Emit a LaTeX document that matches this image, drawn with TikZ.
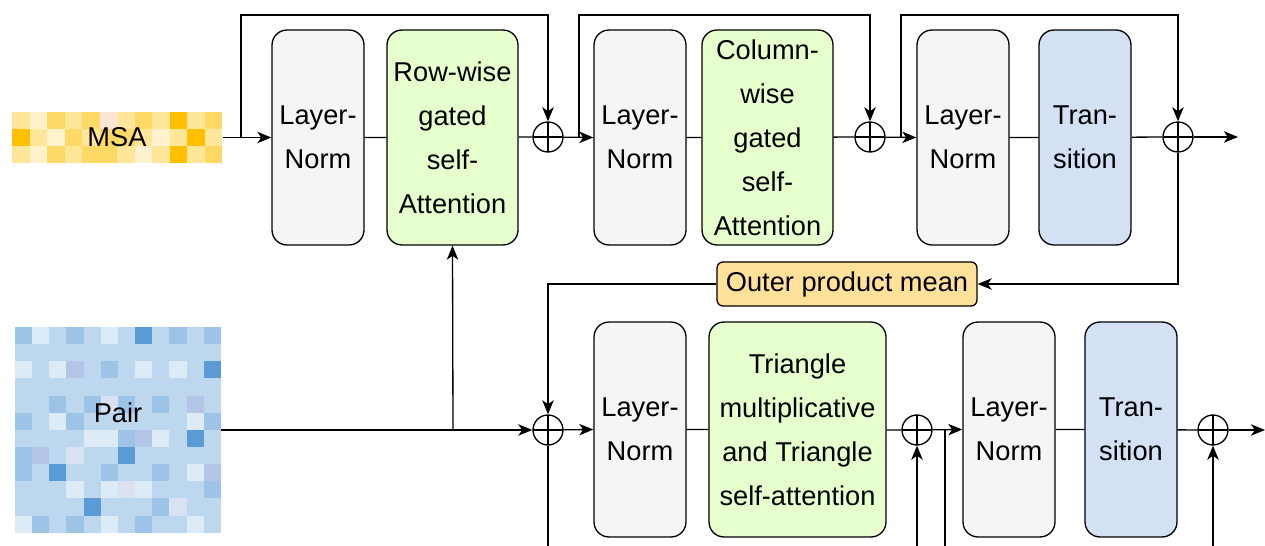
\documentclass[tikz,border=0pt]{standalone}
\usepackage{fontspec}
\setmainfont{Liberation Sans}
\usetikzlibrary{calc,positioning}
\usetikzlibrary{arrows.meta}
\definecolor{msa0}{HTML}{FFC000}
\definecolor{msa1}{HTML}{FFD966}
\definecolor{msa2}{HTML}{FFE699}
\definecolor{msa3}{HTML}{FFF2CC}
\definecolor{msa4}{HTML}{FCE4D6}
\definecolor{pair0}{HTML}{BDD7EE}
\definecolor{pair1}{HTML}{DDEBF7}
\definecolor{pair2}{HTML}{9DC3E6}
\definecolor{pair3}{HTML}{5B9BD5}
\definecolor{pair4}{HTML}{B4C6E7}
\definecolor{pair5}{HTML}{D9E1F2}
\definecolor{lngray}{HTML}{F5F5F5}
\definecolor{attgreen}{HTML}{E6FFCC}
\definecolor{transblue}{HTML}{D4E1F5}
\definecolor{opmyellow}{HTML}{FFE199}
\begin{document}
\begin{tikzpicture}[>={Stealth[length=8pt,width=6.5pt,inset=2.2pt]},x=0.02cm,y=-0.02cm,line width=0.75pt,
		font=\fontsize{15.5}{25}\selectfont,
		block/.style={draw,rounded corners=0.3cm,align=center,inner sep=0pt,
			minimum height=4.3cm},
		ln/.style={block,fill=lngray,minimum width=1.84cm},
		att/.style={block,fill=attgreen,minimum width=2.62cm},
		trans/.style={block,fill=transblue,minimum width=1.84cm},
		plus/.style={draw,circle,minimum size=0.6cm,inner sep=0pt,
			path picture={\draw (path picture bounding box.north) -- (path picture bounding box.south)
				(path picture bounding box.west) -- (path picture bounding box.east);}}]
		\useasboundingbox (0,0) rectangle (1265,546);

		\foreach \row [count=\r] in {{2,3,1,2,1,4,2,1,2,0,2,1},{0,2,3,1,2,1,1,2,3,2,0,2},{2,3,1,2,1,1,2,3,2,0,2,1}}
			\foreach \c [count=\k] in \row
				\fill[msa\c] ({12+(\k-1)*17.5},{112+(\r-1)*17}) rectangle ++(17.5,17);
		\foreach \row [count=\r] in {{2,1,0,2,0,1,0,3,0,2,0,2},{0,0,0,0,0,0,0,0,0,0,0,0},{1,0,1,4,0,2,0,1,0,1,0,3},
				{0,0,0,0,0,0,0,0,0,0,0,0},{0,0,2,0,2,5,2,0,2,0,4,0},{2,0,1,2,0,0,0,0,0,0,1,2},
				{0,0,0,0,1,1,2,4,1,0,3,0},{2,4,0,5,0,0,3,0,0,0,0,0},{2,0,3,0,0,2,0,0,2,0,1,4},
				{0,0,0,1,0,1,5,1,0,0,0,2},{0,0,0,0,3,0,0,0,2,5,0,0},{1,2,0,2,0,1,0,2,0,0,1,0}}
			\foreach \c [count=\k] in \row
				\fill[pair\c] ({15+(\k-1)*17.15},{327+(\r-1)*17.15}) rectangle ++(17.15,17.15);

		\node[minimum width=4.2cm,minimum height=1.02cm,inner sep=0pt] (msa) at (117,137.5) {MSA};
		\node[minimum width=4.1cm,minimum height=4.1cm,inner sep=0pt] (pair) at (118,430) {};
		\node (pairlbl) at (118,413) {Pair};

		\node[ln] (ln1) at (318,137.5) {Layer-\\Norm};
		\node[att] (rw) at (452.5,137.5) {Row-wise\\gated\\self-\\Attention};
		\node[plus] (p1) at (548,137) {};
		\node[ln] (ln2) at (640,137.5) {Layer-\\Norm};
		\node[att] (cw) at (767.5,137.5) {Column-\\wise\\gated\\self-\\Attention};
		\node[plus] (p2) at (870,137) {};
		\node[ln] (ln3) at (963,137.5) {Layer-\\Norm};
		\node[trans] (tr1) at (1085,137.5) {Tran-\\sition};
		\node[plus] (p3) at (1178,137) {};

		\node[draw,fill=opmyellow,rounded corners=0.12cm,minimum width=5.2cm,
			minimum height=0.88cm,inner sep=0pt] (opm) at (847,284) {Outer product mean};

		\node[plus] (p4) at (548,430) {};
		\node[ln] (ln4) at (640,429.5) {Layer-\\Norm};
		\node[att,minimum width=3.54cm] (tri) at (797.5,429.5) {Triangle\\multiplicative\\and Triangle\\self-attention};
		\node[plus] (p5) at (917,430) {};
		\node[ln] (ln5) at (1009,429.5) {Layer-\\Norm};
		\node[trans] (tr2) at (1131,429.5) {Tran-\\sition};
		\node[plus] (p6) at (1213,430) {};

		\coordinate (s1) at (241,137);
		\coordinate (s2) at (579,137);
		\coordinate (s3) at (901,137);
		\coordinate (s4) at (453,430);
		\coordinate (s5) at (945,430);
		\coordinate (out1) at (1238,137);
		\coordinate (out2) at (1265,430);
		\coordinate (e1) at (548,546);
		\coordinate (e2) at (917,546);
		\coordinate (e3) at (945,546);
		\coordinate (e4) at (1213,546);

		\path[->] (msa.east) edge (ln1.west)
				  (p1) edge (ln2.west)
				  (p2) edge (ln3.west)
				  (p3) edge (out1)
				  (pair.east) edge (p4.west)
				  (s4) edge (rw.south)
				  (p4) edge (ln4.west)
				  (p5) edge (ln5.west)
				  (p6) edge (out2)
				  (e2) edge (p5.south)
				  (e4) edge (p6.south);
		\draw (ln1) -- (rw) -- (p1.west);
		\draw (ln2) -- (cw) -- (p2.west);
		\draw (ln3) -- (tr1) -- (p3.west);
		\draw (ln4) -- (tri) -- (p5.west);
		\draw (ln5) -- (tr2) -- (p6.west);
		\draw[->] (s1) -- ++(0,-122) -| (p1.north);
		\draw[->] (s2) -- ++(0,-122) -| (p2.north);
		\draw[->] (s3) -- ++(0,-122) -| (p3.north);
		\draw[->] (p3.south) |- (opm.east);
		\draw[->] (opm.west) -| (p4.north);
		\draw (p4.south) -- (e1);
		\draw (s5) -- (e3);
	\end{tikzpicture}
\end{document}
